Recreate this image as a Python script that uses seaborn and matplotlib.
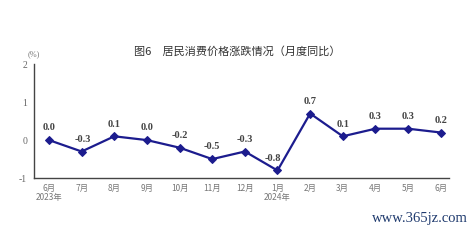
import matplotlib
matplotlib.use("Agg")
import matplotlib.pyplot as plt
import seaborn as sns
import pandas as pd
import numpy as np

months = ["6月\n2023年", "7月", "8月", "9月", "10月", "11月", "12月",
          "1月\n2024年", "2月", "3月", "4月", "5月", "6月"]
values = [0.0, -0.3, 0.1, 0.0, -0.2, -0.5, -0.3, -0.8, 0.7, 0.1, 0.3, 0.3, 0.2]
labels = ["0.0", "-0.3", "0.1", "0.0", "-0.2", "-0.5", "-0.3", "-0.8", "0.7", "0.1", "0.3", "0.3", "0.2"]
yticks = [-1, 0, 1, 2]

sns.set_style("white")
plt.rcParams['font.family'] = ['Noto Sans CJK SC', 'DejaVu Sans']

df = pd.DataFrame({"x": np.arange(len(values)), "v": values})

fig = plt.figure(figsize=(4.76, 2.41), dpi=100)
ax = fig.add_axes([0.0714, 0.261, 0.8716, 0.473])
line_color = "#1c1c8e"
sns.lineplot(data=df, x="x", y="v", ax=ax, color=line_color, linewidth=1.6,
             marker="D", markersize=4, markeredgecolor=line_color)

ax.set_xlim(-0.46, 12.25)
ax.set_ylim(-1, 2)
ax.set_yticks(yticks)
ax.set_yticklabels([str(t) for t in yticks], family=['Liberation Serif'], fontsize=7, color="#666666")
ax.set_xticks(np.arange(len(values)))
ax.set_xticklabels(months, fontsize=6, color="#777777", linespacing=1.0)
ax.set_xticks(np.arange(len(values) - 1) + 0.5, minor=True)
ax.tick_params(axis="x", which="major", length=0, pad=4)
ax.tick_params(axis="x", which="minor", length=3, direction="in", color="#444444", width=0.8)
ax.tick_params(axis="y", which="major", length=3, direction="in", color="#444444", width=0.8, pad=5)
ax.set_xlabel("")
ax.set_ylabel("")
for s in ["top", "right"]:
    ax.spines[s].set_visible(False)
for s in ["left", "bottom"]:
    ax.spines[s].set_color("#444444")
    ax.spines[s].set_linewidth(1.0)

for i, (v, lab) in enumerate(zip(values, labels)):
    dx = -3.5 if i == 7 else (1 if i == 1 else 0)
    ax.annotate(lab, (i, v), xytext=(dx, 5.5), textcoords="offset points",
                ha="center", va="bottom", fontsize=7.5, fontweight="bold",
                family=["Liberation Serif"], color="#444444")

fig.text(0.498, 0.788, "图6　居民消费价格涨跌情况（月度同比）", ha="center", va="center",
         fontsize=8, color="#333333")
fig.text(0.07, 0.775, "(%)", ha="center", va="center", fontsize=6, color="#777777",
         family=["Liberation Serif"])
fig.text(0.982, 0.095, "www.365jz.com", ha="right", va="center", fontsize=10.5,
         color="#1f3a6e", family=["Liberation Serif"])

fig.savefig("out.png", dpi=100)
